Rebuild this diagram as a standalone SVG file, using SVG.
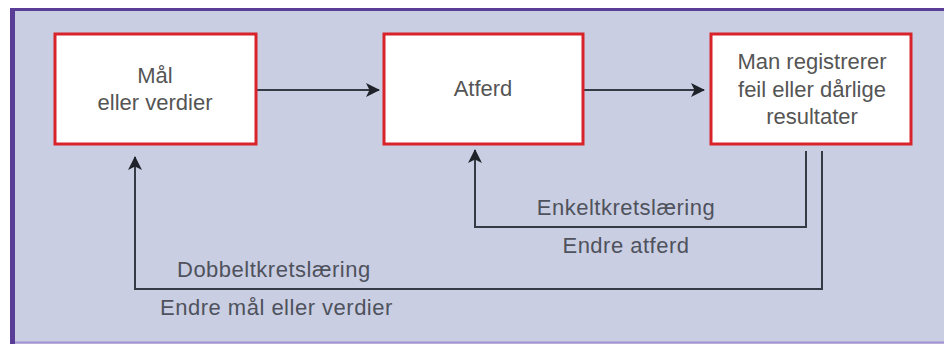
<svg xmlns="http://www.w3.org/2000/svg" width="944" height="344" viewBox="0 0 944 344">
<style>
.box{fill:#ffffff;stroke:#d8232a;stroke-width:3}
.t{font-family:"Liberation Sans",Arial,sans-serif;font-size:22px;fill:#555555;text-anchor:middle}
.l{font-family:"Liberation Sans",Arial,sans-serif;font-size:22px;letter-spacing:0.5px;fill:#4f525c}
.c{fill:none;stroke:#363a45;stroke-width:2}
</style>
<defs>
<marker id="ah" viewBox="0 0 14 14" refX="13" refY="7" markerWidth="14" markerHeight="14" markerUnits="userSpaceOnUse" orient="auto">
<path d="M0,0 L14,7 L0,14 L3.5,7 Z" fill="#1f2229"/>
</marker>
</defs>
<rect x="0" y="0" width="944" height="344" fill="#ffffff"/>
<rect x="12" y="9" width="932" height="335" fill="#c9cee3"/>
<line x1="12.5" y1="8" x2="12.5" y2="344" stroke="#5a3d96" stroke-width="5"/>
<line x1="10" y1="9.5" x2="944" y2="9.5" stroke="#5a3d96" stroke-width="3"/>
<line x1="15" y1="342.5" x2="944" y2="342.5" stroke="#a592d4" stroke-width="2"/>
<g id="connectors">
<line class="c" x1="256" y1="90" x2="379" y2="90" marker-end="url(#ah)"/>
<line class="c" x1="584" y1="90" x2="704" y2="90" marker-end="url(#ah)"/>
<polyline class="c" points="806,151 806,227 475,227 475,150" marker-end="url(#ah)"/>
<polyline class="c" points="822,151 822,289 135,289 135,157" marker-end="url(#ah)"/>
</g>
<g id="node-maal">
<rect class="box" x="55" y="34" width="201" height="110"/>
<text class="t" x="155" y="83">Mål</text>
<text class="t" x="155" y="110">eller verdier</text>
</g>
<g id="node-atferd">
<rect class="box" x="384" y="34" width="199" height="110"/>
<text class="t" x="483" y="96">Atferd</text>
</g>
<g id="node-feil">
<rect class="box" x="711" y="34" width="200" height="110"/>
<text class="t" x="812" y="69">Man registrerer</text>
<text class="t" x="812" y="97">feil eller dårlige</text>
<text class="t" x="812" y="124">resultater</text>
</g>
<g id="labels">
<text class="l" x="626" y="215" text-anchor="middle">Enkeltkretslæring</text>
<text class="l" x="626" y="253" text-anchor="middle">Endre atferd</text>
<text class="l" x="177" y="277">Dobbeltkretslæring</text>
<text class="l" x="160" y="315">Endre mål eller verdier</text>
</g>
</svg>
